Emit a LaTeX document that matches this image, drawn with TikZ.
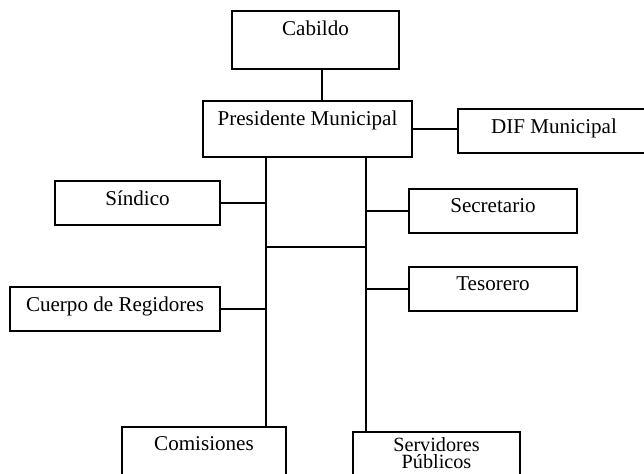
\documentclass[tikz,border=0pt]{standalone}
\usepackage{fontspec}
\setmainfont{Liberation Serif}
\usepackage{tikz}

\begin{document}
\begin{tikzpicture}[x=0.02cm,y=-0.02cm,line width=0.9pt,
  box/.style={draw,rectangle,inner sep=0pt,minimum height=0.88cm},
  lbl/.style={anchor=north,inner sep=0pt,yshift=-0.2cm,align=center,font=\fontsize{12}{11}\selectfont}]
\useasboundingbox (0,0) rectangle (644,473);
\clip (0,0) rectangle (644,473);
% boxes
\node[box,minimum width=3.34cm,minimum height=1.16cm,label={[lbl]north:Cabildo}] (cab) at (315.5,40) {};
\node[box,minimum width=4.18cm,minimum height=1.12cm,label={[lbl]north:Presidente Municipal}] (pres) at (307.5,129) {};
\node[box,minimum width=3.84cm,label={[lbl]north:DIF Municipal}] (dif) at (554,131) {};
\node[box,minimum width=3.3cm,label={[lbl]north:Síndico}] (sin) at (137.5,203) {};
\node[box,minimum width=4.2cm,label={[lbl]north:Cuerpo de Regidores}] (cue) at (115,309) {};
\node[box,minimum width=3.36cm,label={[lbl]north:Secretario}] (sec) at (493,211) {};
\node[box,minimum width=3.36cm,label={[lbl]north:Tesorero}] (tes) at (493,289) {};
\node[box,minimum width=3.28cm,minimum height=1.2cm,label={[lbl]north:Comisiones}] (com) at (204,457) {};
\node[box,minimum width=3.34cm,minimum height=1.2cm,label={[lbl,yshift=0.1cm,font=\fontsize{11.5}{10}\selectfont]north:{Servidores\\Públicos}}] (ser) at (436.5,462) {};
% trunks
\coordinate (cabx) at (322,0);
\coordinate (tl) at (266,247);
\coordinate (tr) at (366,247);
\draw (cab.south -| cabx) -- (pres.north -| cabx);
\draw (pres.east) -- (pres.east -| dif.west);
\draw (pres.south -| tl) -- (com.north -| tl);
\draw (pres.south -| tr) -- (ser.north -| tr);
\draw (tl) -- (tr);
% branches
\foreach \b in {sin,cue}
  \draw (\b.east) -- (\b.east -| tl);
\foreach \b in {sec,tes}
  \draw (\b.west) -- (\b.west -| tr);
\end{tikzpicture}
\end{document}
